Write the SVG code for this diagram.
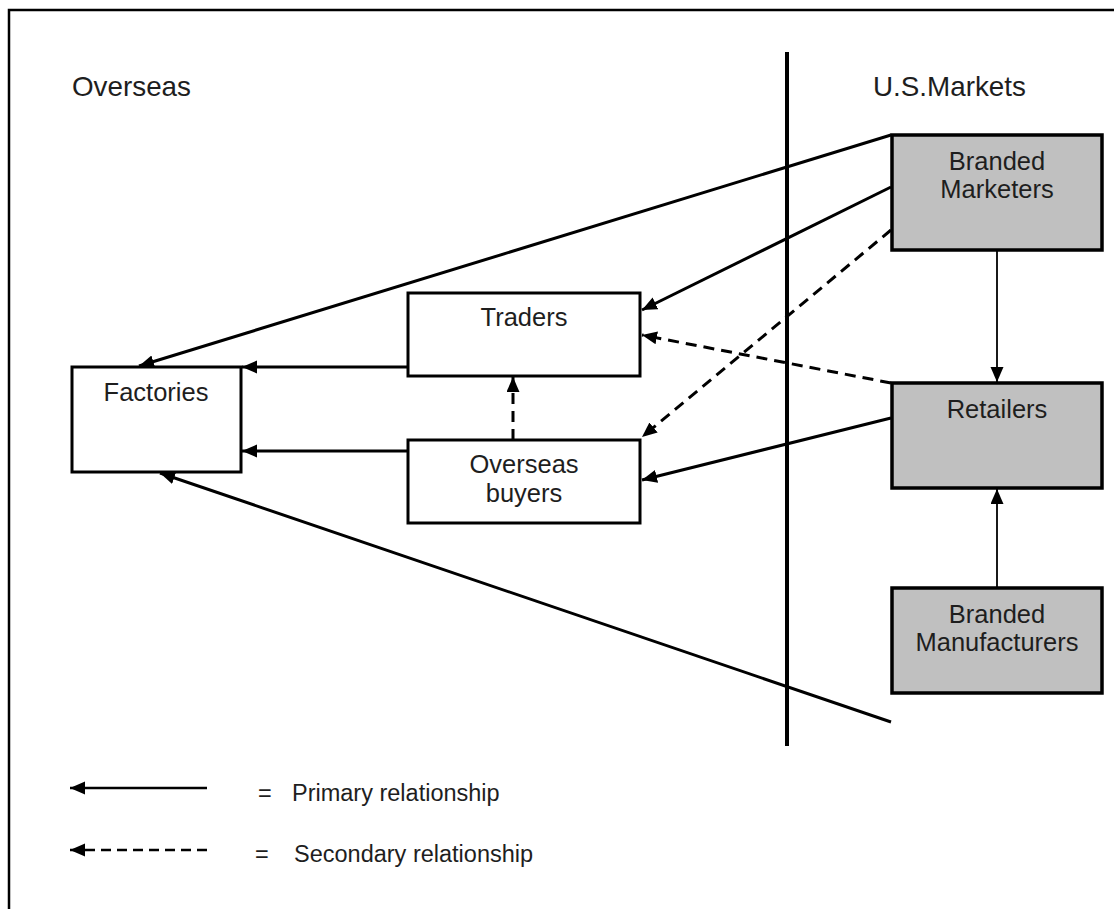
<svg xmlns="http://www.w3.org/2000/svg" width="1114" height="909" viewBox="0 0 1114 909">
  <style>
    .bg { fill: #ffffff; }
    .frame { fill: none; stroke: #000; stroke-width: 2.5; }
    .divider { stroke: #000; stroke-width: 4; }
    .box { fill: #ffffff; stroke: #000; stroke-width: 3; }
    .gbox { fill: #c0c0c0; stroke: #000; stroke-width: 3.5; }
    .label { font-family: "Liberation Sans", Arial, sans-serif; font-size: 25.5px; fill: #1e1e1e; text-anchor: middle; }
    .head { font-family: "Liberation Sans", Arial, sans-serif; font-size: 27.8px; fill: #1e1e1e; }
    .legend { font-family: "Liberation Sans", Arial, sans-serif; font-size: 23.5px; fill: #1e1e1e; }
    .primary { fill: none; stroke: #000; stroke-width: 3; marker-end: url(#arrow); }
    .secondary { fill: none; stroke: #000; stroke-width: 3; stroke-dasharray: 11 7; marker-end: url(#arrow); }
    .thin { fill: none; stroke: #000; stroke-width: 1.8; marker-end: url(#arrow); }
  </style>
  <defs>
    <marker id="arrow" markerUnits="userSpaceOnUse" markerWidth="16" markerHeight="14" refX="15" refY="6.5" orient="auto">
      <path d="M0,0 L15,6.5 L0,13 Z" fill="#000"/>
    </marker>
  </defs>

  <rect class="bg" x="0" y="0" width="1114" height="909"/>
  <!-- page frame (open to the right and bottom) -->
  <path class="frame" d="M9,911 L9,10 L1116,10"/>

  <!-- region headings and border line -->
  <text class="head" x="72" y="96">Overseas</text>
  <text class="head" x="873" y="96">U.S.Markets</text>
  <line class="divider" x1="787" y1="52" x2="787" y2="746"/>

  <!-- connectors -->
  <g id="connectors">
    <line class="primary" x1="891" y1="135" x2="139" y2="366"/>
    <line class="primary" x1="891" y1="187" x2="642" y2="310"/>
    <line class="secondary" x1="891" y1="230" x2="642" y2="437"/>
    <line class="secondary" x1="891" y1="383" x2="642" y2="335"/>
    <line class="primary" x1="891" y1="418" x2="642" y2="480"/>
    <line class="primary" x1="891" y1="722" x2="160" y2="473"/>
    <line class="primary" x1="408" y1="367" x2="242" y2="367"/>
    <line class="primary" x1="408" y1="451" x2="242" y2="451"/>
    <line class="secondary" x1="513" y1="440" x2="513" y2="377"/>
    <line class="thin" x1="997" y1="250" x2="997" y2="382"/>
    <line class="thin" x1="997" y1="588" x2="997" y2="489"/>
  </g>

  <!-- nodes -->
  <g id="factories">
    <rect class="box" x="72" y="367" width="169" height="105"/>
    <text class="label" x="156" y="401">Factories</text>
  </g>
  <g id="traders">
    <rect class="box" x="408" y="293" width="232" height="83"/>
    <text class="label" x="524" y="326">Traders</text>
  </g>
  <g id="overseas-buyers">
    <rect class="box" x="408" y="440" width="232" height="83"/>
    <text class="label" x="524" y="473">Overseas</text>
    <text class="label" x="524" y="502">buyers</text>
  </g>
  <g id="branded-marketers">
    <rect class="gbox" x="892" y="135" width="210" height="115"/>
    <text class="label" x="997" y="170">Branded</text>
    <text class="label" x="997" y="198">Marketers</text>
  </g>
  <g id="retailers">
    <rect class="gbox" x="892" y="383" width="210" height="105"/>
    <text class="label" x="997" y="418">Retailers</text>
  </g>
  <g id="branded-manufacturers">
    <rect class="gbox" x="892" y="588" width="210" height="105"/>
    <text class="label" x="997" y="623">Branded</text>
    <text class="label" x="997" y="651">Manufacturers</text>
  </g>

  <!-- legend -->
  <g id="legend">
    <line class="thin" x1="207" y1="788" x2="70" y2="788" style="stroke-width:2.5"/>
    <text class="legend" x="258" y="801">=</text>
    <text class="legend" x="292" y="801">Primary relationship</text>
    <line class="thin" x1="207" y1="850" x2="70" y2="850" style="stroke-width:2.5; stroke-dasharray: 10 6"/>
    <text class="legend" x="255" y="862">=</text>
    <text class="legend" x="294" y="862">Secondary relationship</text>
  </g>
</svg>
